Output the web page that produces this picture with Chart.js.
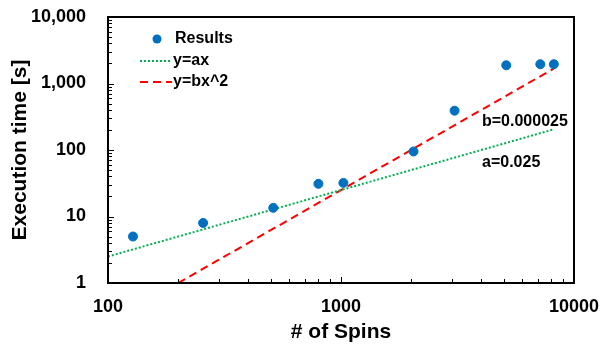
<!DOCTYPE html>
<html>
<head>
<meta charset="utf-8">
<script src="https://cdn.jsdelivr.net/npm/chart.js@4.4.0/dist/chart.umd.min.js"></script>
<style>
  html, body { margin: 0; padding: 0; background: #fff; }
  #wrap { width: 613px; height: 345px; }
</style>
</head>
<body>
<div id="wrap"><canvas id="spinChart"></canvas></div>
<script>
// measured results
const spins = [128, 256, 512, 800, 1024, 2048, 3072, 5120, 7168, 8192];
const times = [5, 8, 13.5, 31, 32, 95, 390, 1880, 1950, 1950];

// fit lines (y=ax, a=0.025 and y=bx^2, b=0.000025)
const linX = [100, 128, 256, 512, 1024, 2048, 4096, 8192];
const linY = [2.5, 3.2, 6.4, 12.8, 25.6, 51.2, 102.4, 204.8];
const quadX = [200, 256, 512, 1024, 2048, 4096, 8192];
const quadY = [1, 1.64, 6.55, 26.2, 105, 419, 1678];

const xTicks = [100, 1000, 10000];
const yTicks = [1, 10, 100, 1000, 10000];

const FONT = '"Liberation Sans", Arial, sans-serif';

function pts(xs, ys) {
    return xs.map((x, i) => ({ x: x, y: ys[i] }));
}

// frame, inward tick marks, legend and labels
const decor = {
    id: 'decor',
    afterDraw(chart) {
        const c = chart.ctx;
        const a = chart.chartArea;
        const xs = chart.scales.x, ys = chart.scales.y;
        c.save();
        c.strokeStyle = '#000';
        c.lineWidth = 1;
        // minor + major ticks on x
        for (let d = 100; d < 10000; d *= 10) {
            for (let k = 1; k <= 10; k++) {
                const px = Math.round(xs.getPixelForValue(d * k)) + 0.5;
                const len = (k === 1 || k === 10) ? 6 : 4;
                c.beginPath();
                c.moveTo(px, a.bottom);
                c.lineTo(px, a.bottom - len);
                c.stroke();
            }
        }
        for (let d = 1; d < 10000; d *= 10) {
            for (let k = 1; k <= 10; k++) {
                const py = Math.round(ys.getPixelForValue(d * k)) + 0.5;
                const len = (k === 1 || k === 10) ? 6 : 4;
                c.beginPath();
                c.moveTo(a.left, py);
                c.lineTo(a.left + len, py);
                c.stroke();
            }
        }
        // frame
        c.lineWidth = 2;
        c.strokeRect(a.left, a.top, a.right - a.left, a.bottom - a.top);

        // legend
        c.fillStyle = '#0070C0';
        c.beginPath();
        c.arc(157, 39, 4.5, 0, Math.PI * 2);
        c.fill();
        c.lineWidth = 2;
        c.strokeStyle = '#00B050';
        c.setLineDash([2, 2]);
        c.beginPath(); c.moveTo(140, 61); c.lineTo(172, 61); c.stroke();
        c.strokeStyle = '#FF0000';
        c.setLineDash([8, 5]);
        c.beginPath(); c.moveTo(140, 82); c.lineTo(172, 82); c.stroke();
        c.setLineDash([]);
        c.fillStyle = '#000';
        c.font = 'bold 16px ' + FONT;
        c.textBaseline = 'middle';
        c.textAlign = 'left';
        c.fillText('Results', 175, 39);
        c.fillText('y=ax', 173, 61);
        c.fillText('y=bx^2', 173, 82);

        // fit coefficients
        c.fillText('b=0.000025', 482, 122);
        c.fillText('a=0.025', 482, 163);
        c.restore();
    }
};

const ctx = document.getElementById('spinChart');
const spinChart = new Chart(ctx, {
    type: 'scatter',
    data: {
        datasets: [{
            label: 'Results',
            data: pts(spins, times),
            backgroundColor: '#0070C0',
            borderColor: '#0070C0',
            pointRadius: 4.5,
            order: 0
        }, {
            label: 'y=ax',
            data: pts(linX, linY),
            showLine: true,
            borderColor: '#00B050',
            borderWidth: 2,
            borderDash: [2, 2],
            pointRadius: 0,
            order: 1
        }, {
            label: 'y=bx^2',
            data: pts(quadX, quadY),
            showLine: true,
            borderColor: '#FF0000',
            borderWidth: 2,
            borderDash: [8, 5],
            pointRadius: 0,
            order: 2
        }]
    },
    options: {
        responsive: true,
        maintainAspectRatio: false,
        animation: false,
        layout: { padding: { left: 0, right: 39, top: 17, bottom: 0 } },
        plugins: {
            legend: { display: false },
            tooltip: { enabled: false }
        },
        scales: {
            x: {
                type: 'logarithmic',
                min: 100,
                max: 10000,
                grid: { display: false, drawTicks: false },
                border: { display: false },
                afterBuildTicks: (s) => { s.ticks = xTicks.map(v => ({ value: v })); },
                afterFit: (s) => { s.height = 62; s.paddingLeft = 0; s.paddingRight = 0; },
                ticks: {
                    color: '#000',
                    padding: 13,
                    maxRotation: 0,
                    font: { family: FONT, size: 18, weight: 'bold' },
                    callback: (v) => String(v)
                },
                title: {
                    display: true,
                    text: '# of Spins',
                    color: '#000',
                    padding: { top: 3, bottom: 0 },
                    font: { family: FONT, size: 21, weight: 'bold' }
                }
            },
            y: {
                type: 'logarithmic',
                min: 1,
                max: 10000,
                grid: { display: false, drawTicks: false },
                border: { display: false },
                afterBuildTicks: (s) => { s.ticks = yTicks.map(v => ({ value: v })); },
                afterFit: (s) => { s.width = 108; s.paddingTop = 0; s.paddingBottom = 0; },
                ticks: {
                    color: '#000',
                    padding: 22,
                    font: { family: FONT, size: 18, weight: 'bold' },
                    callback: (v) => Number(v).toLocaleString('en-US')
                },
                title: {
                    display: true,
                    text: 'Execution time [s]',
                    color: '#000',
                    padding: { top: 8, bottom: 0 },
                    font: { family: FONT, size: 21, weight: 'bold' }
                }
            }
        }
    },
    plugins: [decor]
});
</script>
</body>
</html>
